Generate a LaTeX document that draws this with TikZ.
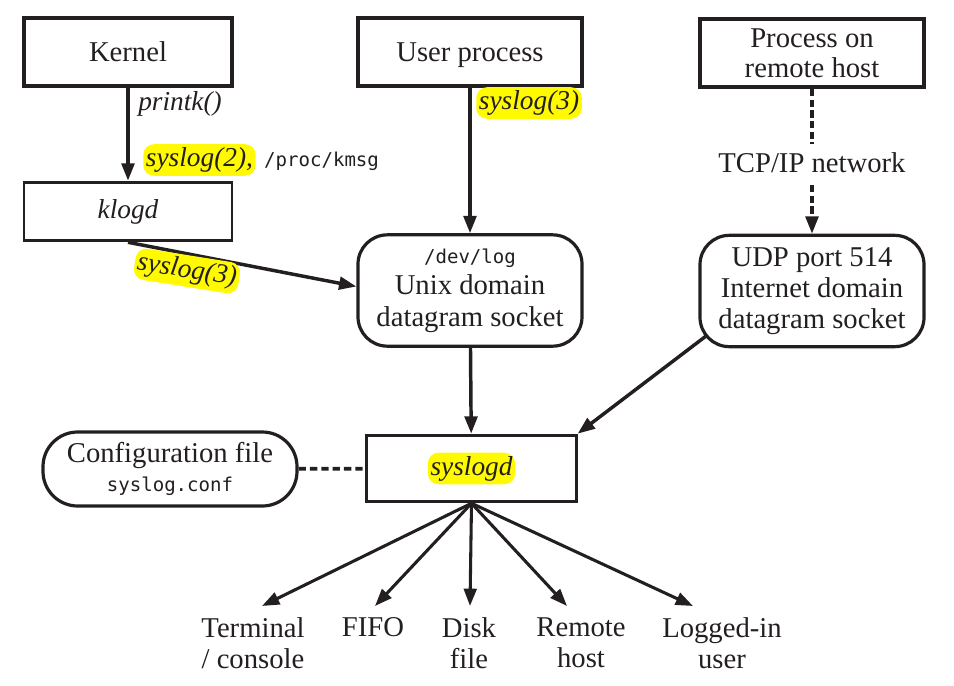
\documentclass[tikz,border=0pt]{standalone}
\usepackage{fontspec}
\setmainfont{Liberation Serif}
\setmonofont{DejaVu Sans Mono}
\usetikzlibrary{arrows.meta}
\definecolor{ink}{RGB}{35,31,32}
\definecolor{hlyellow}{RGB}{255,250,0}
\newcommand\mytt[1]{{\fontsize{14.3}{23.5}\selectfont\ttfamily #1}}
\begin{document}
\begin{tikzpicture}[x=0.75pt,y=-0.75pt,
  every node/.style={font=\fontsize{21.5}{23.5}\selectfont, inner sep=0pt, text=ink},
  topbox/.style={draw=ink, line width=3pt, minimum height=51pt, align=center},
  onelinetext/.style={text height=14pt, text depth=0pt},
  midbox/.style={draw=ink, line width=2.2pt, align=center},
  rbox/.style={draw=ink, line width=2.4pt, rounded corners=22pt, minimum width=168pt, minimum height=83.5pt, align=center},
  cbox/.style={draw=ink, line width=2.4pt, rounded corners=26pt, minimum width=190.5pt, minimum height=55.5pt, align=center},
  hl/.style={fill=hlyellow, rounded corners=8pt, inner xsep=2pt, inner ysep=2.5pt, font=\fontsize{20.5}{23.5}\selectfont\itshape},
  outtext/.style={align=center, anchor=north, inner xsep=0pt, inner ysep=8.25pt},
  arr/.style={draw=ink, line width=2.6pt, -{Triangle[length=13pt,width=9.5pt]}},
  outarr/.style={arr, line width=2.3pt},
  dashline/.style={draw=ink, line width=2.8pt, dash pattern=on 5.5pt off 3pt},
]
\useasboundingbox (0,0) rectangle (954,686);

% top row
\node[topbox, onelinetext, minimum width=156pt] (kern) at (128,52) {Kernel};
\node[topbox, onelinetext, minimum width=168pt] (user) at (470,52) {User process};
\node[topbox, minimum width=168pt, font=\fontsize{21.5}{22.5}\selectfont] (remote) at (812,53) {Process on\\remote host};

% middle row
\node[midbox, minimum width=156pt, minimum height=44pt] (klogd) at (128,211.5) {\fontsize{20.5}{23.5}\selectfont\itshape klogd};
\node[rbox] (devlog) at (470,290.5) {\mytt{/dev/log}\\Unix domain\\datagram socket};
\node[rbox] (udp) at (812,291) {UDP port 514\\Internet domain\\datagram socket};

% syslogd row
\node[cbox, font=\fontsize{21.5}{21.5}\selectfont] (conf) at (170,469) {Configuration file\\\mytt{syslog.conf}};
\node[midbox, minimum width=157pt, minimum height=50pt] (sysd) at (471.5,468.5) {};
\node[hl] (sysdlbl) at (sysd) {syslogd};

% outputs
\node[outtext] (term) at (253,606) {Terminal\\/ console};
\node[outtext] (fifo) at (373,606) {FIFO};
\node[outtext] (disk) at (469,606) {Disk\\file};
\node[outtext] (rhost) at (581,606) {Remote\\host};
\node[outtext] (luser) at (722,606) {Logged-in\\user};

% connectors
\draw[arr] (kern) -- (klogd);
\draw[arr] (user) -- (devlog);
\draw[arr, dash pattern=on 5.5pt off 2.5pt] (remote) -- (udp);
\draw[arr] (klogd.south) -- ([yshift=3pt]devlog.west);
\draw[arr] (devlog) -- (sysd);
\draw[arr] ([xshift=5.5pt,yshift=9pt]udp.south west) -- (sysd.north east);
\draw[dashline] (conf) -- (sysd);

\draw[outarr] (sysd.south) -- ([xshift=6.75pt]term.north);
\draw[outarr] (sysd.south) -- ([xshift=1.5pt]fifo.north);
\draw[outarr] (sysd.south) -- ([xshift=0.75pt]disk.north);
\draw[outarr] (sysd.south) -- ([xshift=-10.5pt]rhost.north);
\draw[outarr] (sysd.south) -- ([xshift=-21.75pt]luser.north);

% labels
\node[anchor=west, font=\fontsize{20.5}{23.5}\selectfont\itshape] (lprintk) at (138,104) {printk()};
\node[hl, anchor=west] (lsys2) at (143,160) {syslog(2),};
\node[anchor=base west] (lproc) at ([xshift=6pt]lsys2.base east) {\mytt{/proc/kmsg}};
\node[hl, anchor=west] (lsys3u) at (476,103) {syslog(3)};
\node[hl, rotate=-9] (lsys3k) at (187,271) {syslog(3)};
\node[fill=white, inner xsep=2pt, inner ysep=7pt] (ltcp) at (812,163) {TCP/IP network};
\end{tikzpicture}
\end{document}
